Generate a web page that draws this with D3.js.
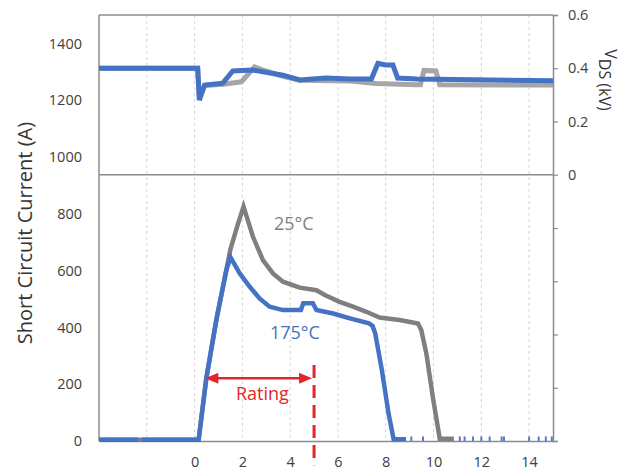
<!DOCTYPE html>
<html>
<head>
<meta charset="utf-8">
<script src="https://cdn.jsdelivr.net/npm/d3@7"></script>
<style>
  body { margin: 0; background: #fff; }
  svg { display: block; font-family: "Open Sans", sans-serif; }
</style>
</head>
<body>
<svg id="chart"></svg>
<script>
// Short circuit waveforms - current (bottom) and VDS (top)

// ticks
const xTicks = [0, 2, 4, 6, 8, 10, 12, 14];
const gridX = [-2, 0, 2, 4, 6, 8, 10, 12, 14];
const currentTicks = [0, 200, 400, 600, 800, 1000, 1200, 1400];
const vdsTicks = [-1, -0.8, -0.6, -0.4, -0.2, 0, 0.2, 0.4, 0.6];
const vdsLabels = ["", "", "", "", "", "0", "0.2", "0.4", "0.6"];

// current at 25°C (A)
const i25Time = [-4, 0.17, 0.49, 0.91, 1.33, 1.5, 1.8, 2.05, 2.2, 2.44, 2.86, 3.28, 3.7, 4.4, 5.1, 5.45, 6.07, 6.63, 7.19, 7.74, 8.58, 9.35, 9.49, 9.7, 9.97, 10.26, 10.85];
const i25Amp  = [4, 4, 220, 426, 602, 675, 760, 825, 785, 720, 637, 590, 561, 540, 531, 514, 490, 473, 455, 435, 426, 414, 390, 308, 155, 8, 8];

// current at 175°C (A)
const i175Time = [-4, -2.35, -2.3, -2.2, 0.17, 0.49, 0.91, 1.33, 1.5, 1.89, 2.31, 2.72, 3.14, 3.7, 4.45, 4.55, 4.95, 5.1, 5.8, 6.5, 7.3, 7.45, 7.56, 7.84, 8.12, 8.33, 8.85];
const i175Amp  = [4, 4, null, 4, 4, 220, 426, 602, 647, 590, 543, 502, 473, 461, 461, 485, 485, 461, 449, 432, 414, 405, 379, 249, 96, 6, 6];

// small spikes on the zero line after turn-off
const spikeTime = [9.07, 9.56, 11.1, 11.3, 11.65, 12.0, 12.35, 12.85, 12.95, 14.0, 14.4, 14.7, 14.95];

// VDS (kV)
const v25Time = [-4, 0.13, 0.2, 0.42, 1.2, 1.96, 2.51, 2.8, 3.7, 4.4, 6.5, 7.6, 9.3, 9.45, 9.6, 10.1, 10.26, 15];
const v25kV   = [0.40, 0.40, 0.29, 0.335, 0.34, 0.349, 0.405, 0.395, 0.37, 0.355, 0.352, 0.343, 0.338, 0.338, 0.392, 0.39, 0.338, 0.337];

const v175Time = [-4, 0.13, 0.2, 0.42, 1.18, 1.6, 2.43, 3.7, 4.4, 5.5, 6.5, 7.4, 7.67, 8.0, 8.3, 8.5, 9.3, 15];
const v175kV   = [0.40, 0.40, 0.28, 0.337, 0.344, 0.39, 0.393, 0.374, 0.356, 0.363, 0.36, 0.36, 0.418, 0.412, 0.412, 0.363, 0.36, 0.353];

// annotations
const ratingRange = [0.45, 5.0];
const ratingLevel = 221;
const ratingLine = [268, -85];

const width = 624, height = 475;
const margin = { left: 99, right: 71, top: 15, bottom: 34 };
const blue = "#4472C4", darkGray = "#7F7F7F", lightGray = "#A6A6A6", red = "#E3262B", textCol = "#404040";

const svg = d3.select("#chart")
  .attr("width", width)
  .attr("height", height);

svg.append("rect").attr("width", width).attr("height", height).attr("fill", "#fff");

const x = d3.scaleLinear().domain([-4, 15]).range([margin.left, width - margin.right]);
const yI = d3.scaleLinear().domain([0, 1500]).range([height - margin.bottom, margin.top]);
const yV = d3.scaleLinear().domain([-1, 0.6]).range([height - margin.bottom, margin.top]);

// vertical dashed grid
svg.append("g")
  .selectAll("line")
  .data(gridX)
  .join("line")
  .attr("x1", d => x(d)).attr("x2", d => x(d))
  .attr("y1", margin.top).attr("y2", yI(0))
  .attr("stroke", "#d4d4d4")
  .attr("stroke-width", 1)
  .attr("stroke-dasharray", "3,3");

// frame: top, left, divider
const frame = svg.append("g").attr("stroke", "#8c8c8c").attr("stroke-width", 1.5);
frame.append("line").attr("x1", x(-4)).attr("x2", x(15)).attr("y1", margin.top).attr("y2", margin.top);
frame.append("line").attr("x1", x(-4)).attr("x2", x(-4)).attr("y1", margin.top).attr("y2", yI(0));
frame.append("line").attr("x1", x(-4)).attr("x2", x(15)).attr("y1", yV(0)).attr("y2", yV(0));

// x axis
const xAxis = svg.append("g")
  .attr("transform", `translate(0, ${yI(0)})`)
  .call(d3.axisBottom(x).tickValues(xTicks).tickSize(0).tickPadding(16));
xAxis.select(".domain").attr("stroke", "#8c8c8c").attr("stroke-width", 1.5);

// left axis (current)
const yAxisL = svg.append("g")
  .attr("transform", `translate(${x(-4)}, 0)`)
  .call(d3.axisLeft(yI).tickValues(currentTicks).tickSize(0).tickPadding(17)
    .tickFormat(d3.format("d")));
yAxisL.select(".domain").remove();

// right axis (VDS)
const yAxisR = svg.append("g")
  .attr("transform", `translate(${x(15)}, 0)`)
  .call(d3.axisRight(yV).tickValues(vdsTicks).tickSize(5).tickPadding(10)
    .tickFormat((d, i) => vdsLabels[i]));
yAxisR.select(".domain").attr("stroke", "#8c8c8c").attr("stroke-width", 1.5);
yAxisR.selectAll(".tick line").attr("stroke", "#8c8c8c").attr("stroke-width", 1.2);

svg.selectAll(".tick text")
  .style("font-family", "Open Sans, sans-serif")
  .style("font-size", "14.5px")
  .attr("fill", textCol);

// series
const lineI = (times, vals) => d3.line()
  .defined((d, i) => vals[i] !== null)
  .x((d, i) => x(times[i]))
  .y((d, i) => yI(vals[i]))(times);

const lineV = (times, vals) => d3.line()
  .x((d, i) => x(times[i]))
  .y((d, i) => yV(vals[i]))(times);

svg.append("path").attr("d", lineV(v25Time, v25kV))
  .attr("fill", "none").attr("stroke", lightGray).attr("stroke-width", 5);
svg.append("path").attr("d", lineV(v175Time, v175kV))
  .attr("fill", "none").attr("stroke", blue).attr("stroke-width", 5);

svg.append("path").attr("d", lineI(i25Time, i25Amp))
  .attr("fill", "none").attr("stroke", darkGray).attr("stroke-width", 4.5);
svg.append("path").attr("d", lineI(i175Time, i175Amp))
  .attr("fill", "none").attr("stroke", blue).attr("stroke-width", 4.5);

svg.append("g")
  .selectAll("line")
  .data(spikeTime)
  .join("line")
  .attr("x1", d => x(d)).attr("x2", d => x(d))
  .attr("y1", yI(0)).attr("y2", yI(16))
  .attr("stroke", "#5a7bbd").attr("stroke-width", 2);

// temperature labels
svg.append("text")
  .attr("x", x(4.15)).attr("y", yI(768))
  .attr("text-anchor", "middle").attr("dominant-baseline", "central")
  .attr("font-size", 18).attr("fill", darkGray)
  .text("25°C");

svg.append("text")
  .attr("x", x(4.2)).attr("y", yI(385))
  .attr("text-anchor", "middle").attr("dominant-baseline", "central")
  .attr("font-size", 18).attr("fill", blue)
  .text("175°C");

// rating arrow
const ax0 = x(ratingRange[0]), ax1 = x(ratingRange[1]) - 2, ay = yI(ratingLevel);
const headLen = 13, headHalf = 5.5;
svg.append("line")
  .attr("x1", ax0 + headLen - 1).attr("x2", ax1 - headLen + 1)
  .attr("y1", ay).attr("y2", ay)
  .attr("stroke", red).attr("stroke-width", 2.5);
svg.append("path")
  .attr("d", `M${ax0},${ay}L${ax0 + headLen},${ay - headHalf}L${ax0 + headLen},${ay + headHalf}Z`)
  .attr("fill", red);
svg.append("path")
  .attr("d", `M${ax1},${ay}L${ax1 - headLen},${ay - headHalf}L${ax1 - headLen},${ay + headHalf}Z`)
  .attr("fill", red);

svg.append("line")
  .attr("x1", x(ratingRange[1])).attr("x2", x(ratingRange[1]))
  .attr("y1", yI(ratingLine[0])).attr("y2", yI(ratingLine[1]))
  .attr("stroke", red).attr("stroke-width", 3)
  .attr("stroke-dasharray", "13,7");

svg.append("text")
  .attr("x", x(2.84)).attr("y", yI(168))
  .attr("text-anchor", "middle").attr("dominant-baseline", "central")
  .attr("font-size", 18).attr("fill", red)
  .text("Rating");

// axis titles
svg.append("text")
  .attr("transform", `translate(24, 233) rotate(-90)`)
  .attr("text-anchor", "middle").attr("dominant-baseline", "central")
  .attr("font-size", 20).attr("fill", "#333")
  .text("Short Circuit Current (A)");

const vTitle = svg.append("text")
  .attr("transform", `translate(611, 80) rotate(90)`)
  .attr("text-anchor", "middle").attr("dominant-baseline", "central")
  .attr("font-size", 16).attr("fill", "#333");
vTitle.append("tspan").text("V");
vTitle.append("tspan").attr("dy", 6).text("DS (kV)");
</script>
</body>
</html>
